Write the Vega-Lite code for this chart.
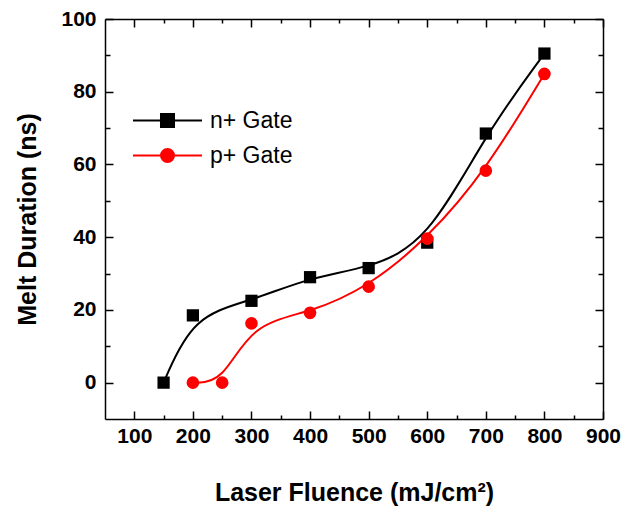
{
  "$schema": "https://vega.github.io/schema/vega-lite/v6.json",
  "width": 498,
  "height": 400,
  "autosize": {"type": "none"},
  "padding": {"left": 105, "top": 19, "right": 22, "bottom": 92},
  "background": "white",
  "config": {
    "font": "Liberation Sans",
    "view": {"stroke": null},
    "axis": {
      "grid": false,
      "domainColor": "#000000",
      "domainWidth": 1.5,
      "tickColor": "#000000",
      "tickWidth": 1.5,
      "labelFont": "Liberation Sans",
      "labelFontSize": 21,
      "labelFontWeight": "bold",
      "labelColor": "#000000",
      "labelOverlap": false,
      "labelFlush": false,
      "titleFont": "Liberation Sans",
      "titleFontSize": 25,
      "titleFontWeight": "bold",
      "titleColor": "#000000"
    },
    "legend": {
      "title": null,
      "orient": "none",
      "legendX": 51,
      "legendY": 90,
      "labelFont": "Liberation Sans",
      "labelFontSize": 23,
      "labelColor": "#000000",
      "symbolSize": 196,
      "labelOffset": 31,
      "rowPadding": 11
    }
  },
  "data": {
    "values": [
      {"series": "n+ Gate", "fluence": 150, "duration": 0},
      {"series": "n+ Gate", "fluence": 200, "duration": 18.5},
      {"series": "n+ Gate", "fluence": 300, "duration": 22.5},
      {"series": "n+ Gate", "fluence": 400, "duration": 29},
      {"series": "n+ Gate", "fluence": 500, "duration": 31.5},
      {"series": "n+ Gate", "fluence": 600, "duration": 38.5},
      {"series": "n+ Gate", "fluence": 700, "duration": 68.5},
      {"series": "n+ Gate", "fluence": 800, "duration": 90.5},
      {"series": "p+ Gate", "fluence": 200, "duration": 0},
      {"series": "p+ Gate", "fluence": 250, "duration": 0},
      {"series": "p+ Gate", "fluence": 300, "duration": 16.3},
      {"series": "p+ Gate", "fluence": 400, "duration": 19.2},
      {"series": "p+ Gate", "fluence": 500, "duration": 26.4},
      {"series": "p+ Gate", "fluence": 600, "duration": 39.6},
      {"series": "p+ Gate", "fluence": 700, "duration": 58.3},
      {"series": "p+ Gate", "fluence": 800, "duration": 84.9}
    ]
  },
  "layer": [
    {
      "mark": {"type": "line", "interpolate": "basis", "strokeWidth": 2},
      "encoding": {
        "x": {
          "field": "fluence",
          "type": "quantitative",
          "scale": {"domain": [50, 900], "nice": false, "zero": false},
          "axis": {
            "orient": "bottom",
            "title": "Laser Fluence (mJ/cm²)",
            "titlePadding": 30,
            "values": [100, 150, 200, 250, 300, 350, 400, 450, 500, 550, 600, 650, 700, 750, 800, 850, 900],
            "labelExpr": "datum.value % 100 === 0 ? datum.label : ''",
            "tickSize": {"condition": {"test": "datum.value % 100 === 0", "value": -8}, "value": -4},
            "labelPadding": 14
          }
        },
        "y": {
          "field": "duration",
          "type": "quantitative",
          "scale": {"domain": [-10, 100], "nice": false, "zero": false},
          "axis": {
            "orient": "left",
            "title": "Melt Duration (ns)",
            "titlePadding": 20,
            "values": [0, 10, 20, 30, 40, 50, 60, 70, 80, 90, 100],
            "labelExpr": "datum.value % 20 === 0 ? datum.label : ''",
            "tickSize": {"condition": {"test": "datum.value % 20 === 0", "value": -8}, "value": -5},
            "labelPadding": 17
          }
        },
        "color": {
          "field": "series",
          "type": "nominal",
          "scale": {"domain": ["n+ Gate", "p+ Gate"], "range": ["#000000", "#ff0000"]},
          "legend": {
            "symbolType": "M-4.93,0H4.93M-0.93,-0.93H0.93V0.93H-0.93Z",
            "encode": {
              "symbols": {
                "update": {
                  "shape": {"signal": "datum.value === 'n+ Gate' ? 'M-4.93,0H4.93M-0.93,-0.93H0.93V0.93H-0.93Z' : 'M-4.93,0H4.93M0.93,0A0.93,0.93,0,1,1,-0.93,0A0.93,0.93,0,1,1,0.93,0Z'"},
                  "strokeWidth": {"value": 2},
                  "opacity": {"value": 1}
                }
              }
            }
          }
        }
      }
    },
    {
      "transform": [{"filter": "datum.series === 'n+ Gate'"}],
      "mark": {"type": "point", "shape": "square", "filled": true, "opacity": 1, "size": 150},
      "encoding": {
        "x": {
          "field": "fluence",
          "type": "quantitative",
          "axis": {
            "orient": "top",
            "title": null,
            "labels": false,
            "values": [100, 150, 200, 250, 300, 350, 400, 450, 500, 550, 600, 650, 700, 750, 800, 850, 900],
            "tickSize": {"condition": {"test": "datum.value % 100 === 0", "value": -8}, "value": -4}
          }
        },
        "y": {
          "field": "duration",
          "type": "quantitative",
          "axis": {
            "orient": "right",
            "title": null,
            "labels": false,
            "values": [0, 10, 20, 30, 40, 50, 60, 70, 80, 90, 100],
            "tickSize": {"condition": {"test": "datum.value % 20 === 0", "value": -8}, "value": -5}
          }
        },
        "color": {"field": "series", "type": "nominal"}
      }
    },
    {
      "transform": [{"filter": "datum.series === 'p+ Gate'"}],
      "mark": {"type": "point", "shape": "circle", "filled": true, "opacity": 1, "size": 160},
      "encoding": {
        "x": {"field": "fluence", "type": "quantitative", "axis": null},
        "y": {"field": "duration", "type": "quantitative", "axis": null},
        "color": {"field": "series", "type": "nominal"}
      }
    }
  ],
  "resolve": {"axis": {"x": "independent", "y": "independent"}}
}
